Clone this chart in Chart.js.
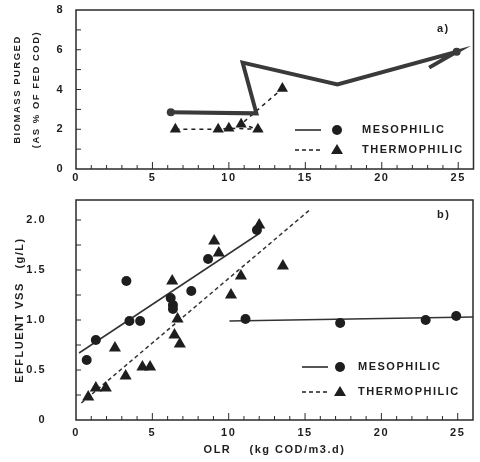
<!DOCTYPE html>
<html>
<head>
<meta charset="utf-8">
<script src="https://cdn.jsdelivr.net/npm/chart.js@4.4.0/dist/chart.umd.min.js"></script>
<style>
  html, body { margin: 0; padding: 0; background: #fff; }
  canvas { position: absolute; left: 0; }
  #purgedChart { top: 0; }
  #vssChart { top: 190px; }
</style>
</head>
<body>
<canvas id="purgedChart" width="480" height="190"></canvas>
<canvas id="vssChart" width="480" height="272"></canvas>
<script>
const seriesNames = ['MESOPHILIC', 'THERMOPHILIC'];

// a) biomass purged, points in the order the lines join them
const purgedMesoOlr = [6.2, 11.8, 10.9, 17.1, 24.9, 23.1];
const purgedMesoPct = [2.85, 2.8, 5.35, 4.25, 5.9, 5.1];
const purgedThermoOlr = [6.5, 9.3, 10.0, 11.9, 10.8, 13.5];
const purgedThermoPct = [2.0, 2.0, 2.05, 2.0, 2.25, 4.05];

// b) effluent VSS
const vssMesoOlr = [0.7, 1.3, 3.3, 3.5, 4.2, 6.2, 6.35, 6.35, 7.55, 8.65, 11.85, 11.1, 17.3, 22.9, 24.9];
const vssMesoGl = [0.60, 0.80, 1.39, 0.99, 0.99, 1.22, 1.15, 1.11, 1.29, 1.61, 1.90, 1.01, 0.97, 1.00, 1.04];
const vssThermoOlr = [0.8, 1.3, 1.95, 2.55, 3.25, 4.35, 4.85, 6.3, 6.45, 6.65, 6.8, 9.05, 9.35, 10.15, 10.8, 12.0, 13.55];
const vssThermoGl = [0.23, 0.32, 0.32, 0.72, 0.44, 0.53, 0.53, 1.39, 0.85, 1.01, 0.76, 1.79, 1.67, 1.25, 1.44, 1.95, 1.54];

// fitted lines
const mesoFitLowOlr = [0.2, 12.05];
const mesoFitLowGl = [0.67, 1.87];
const mesoFitHighOlr = [10.05, 26];
const mesoFitHighGl = [0.99, 1.03];
const thermoFitOlr = [0.35, 15.3];
const thermoFitGl = [0.17, 2.10];

(() => {
  'use strict'

  const ink = '#1e1e1e';
  Chart.defaults.font.family = '"Liberation Sans", Arial, sans-serif';
  Chart.defaults.font.weight = 'bold';
  Chart.defaults.font.size = 11;
  Chart.defaults.color = ink;

  const pts = (xs, ys) => xs.map((x, i) => ({ x: x, y: ys[i] }));

  // wide letter spacing like the typed original
  const spacing = {
    id: 'spacing',
    beforeLayout(chart) { chart.ctx.letterSpacing = '1.5px'; },
    beforeDraw(chart) { chart.ctx.letterSpacing = '1.5px'; }
  };

  // fixed y axis width, and no extra top/bottom room from tick padding
  const fixY = width => scale => {
    scale.width = width;
    scale.paddingTop = 0;
    scale.paddingBottom = 0;
  };

  // box frame with inward tick marks
  const frame = {
    id: 'frame',
    afterDraw(chart) {
      const { ctx, chartArea: a, scales } = chart;
      const mark = (x1, y1, x2, y2) => {
        ctx.beginPath();
        ctx.moveTo(x1, y1);
        ctx.lineTo(x2, y2);
        ctx.stroke();
      };
      ctx.save();
      ctx.strokeStyle = '#2a2a2a';
      ctx.lineWidth = 1;
      scales.x.ticks.forEach(t => {
        if (t.value <= scales.x.min || t.value >= scales.x.max) return;
        const px = scales.x.getPixelForValue(t.value);
        mark(px, a.bottom, px, a.bottom - (t.value % 5 === 0 ? 7 : 4));
      });
      scales.y.ticks.forEach(t => {
        if (t.value <= scales.y.min || t.value >= scales.y.max) return;
        const py = scales.y.getPixelForValue(t.value);
        mark(a.left, py, a.left + 5, py);
      });
      ctx.lineWidth = 1.5;
      ctx.strokeRect(a.left, a.top, a.right - a.left, a.bottom - a.top);
      ctx.restore();
    }
  };

  // legend inside the plot: line sample, marker, name
  const legendBox = {
    id: 'legendBox',
    afterDraw(chart, args, opts) {
      const { ctx, chartArea: a } = chart;
      ctx.save();
      ctx.fillStyle = ink;
      ctx.strokeStyle = ink;
      ctx.font = 'bold 11px "Liberation Sans", Arial, sans-serif';
      ctx.textBaseline = 'middle';
      seriesNames.forEach((name, i) => {
        const y = a.top + opts.y + i * opts.gap;
        const x = a.left + opts.x;
        ctx.lineWidth = 1.5;
        ctx.setLineDash(i === 0 ? [] : [4, 3]);
        ctx.beginPath();
        ctx.moveTo(x, y);
        ctx.lineTo(x + 26, y);
        ctx.stroke();
        ctx.setLineDash([]);
        const mx = x + opts.marker;
        ctx.beginPath();
        if (i === 0) {
          ctx.arc(mx, y, 5, 0, Math.PI * 2);
        } else {
          ctx.moveTo(mx, y - 6);
          ctx.lineTo(mx + 6, y + 4);
          ctx.lineTo(mx - 6, y + 4);
          ctx.closePath();
        }
        ctx.fill();
        ctx.fillText(name, x + opts.text, y);
      });
      ctx.textAlign = 'left';
      ctx.fillText(opts.tag, a.left + opts.tagX, a.top + opts.tagY);
      ctx.restore();
    }
  };

  const ctx1 = document.getElementById('purgedChart');
  const purgedChart = new Chart(ctx1, {
    type: 'scatter',
    data: {
      datasets: [{
        label: seriesNames[0],
        data: pts(purgedMesoOlr, purgedMesoPct),
        showLine: true,
        borderColor: '#3a3a3a',
        borderWidth: 4,
        backgroundColor: '#3a3a3a',
        pointRadius: [4, 0, 0, 0, 4, 0],
        pointBorderWidth: 0
      }, {
        label: seriesNames[1],
        data: pts(purgedThermoOlr, purgedThermoPct),
        showLine: true,
        borderColor: ink,
        borderWidth: 1.5,
        borderDash: [4, 4],
        backgroundColor: ink,
        pointStyle: 'triangle',
        pointRadius: 6.5,
        pointBorderWidth: 0
      }]
    },
    options: {
      responsive: false,
      animation: false,
      layout: { padding: { top: 10, right: 5, left: 0, bottom: 0 } },
      scales: {
        x: {
          type: 'linear',
          min: 0,
          max: 26,
          grid: { display: false, drawTicks: false },
          border: { display: false },
          ticks: {
            stepSize: 1,
            autoSkip: false,
            maxRotation: 0,
            padding: 2,
            callback: v => (v % 5 === 0 && v < 26 ? v : '')
          },
          afterFit(scale) { scale.height = 21; }
        },
        y: {
          min: 0,
          max: 8,
          grid: { display: false, drawTicks: false },
          border: { display: false },
          ticks: {
            stepSize: 1,
            autoSkip: false,
            padding: 12,
            callback: v => (v % 2 === 0 ? v : '')
          },
          title: {
            display: true,
            text: ['BIOMASS PURGED', '(AS % OF FED COD)'],
            font: { size: 9.5, weight: 'bold', lineHeight: 2 },
            padding: { top: 8, bottom: 0 }
          },
          afterFit: fixY(76)
        }
      },
      plugins: {
        legend: { display: false },
        tooltip: { enabled: false },
        legendBox: { x: 219, y: 120, gap: 20, marker: 42, text: 67, tag: 'a)', tagX: 361, tagY: 19 }
      }
    },
    plugins: [spacing, frame, legendBox]
  });

  const ctx2 = document.getElementById('vssChart');
  const vssChart = new Chart(ctx2, {
    type: 'scatter',
    data: {
      datasets: [{
        label: seriesNames[0],
        data: pts(vssMesoOlr, vssMesoGl),
        backgroundColor: ink,
        pointRadius: 5,
        pointBorderWidth: 0
      }, {
        label: seriesNames[1],
        data: pts(vssThermoOlr, vssThermoGl),
        backgroundColor: ink,
        pointStyle: 'triangle',
        pointRadius: 7,
        pointBorderWidth: 0
      }, {
        label: 'fit meso low',
        data: pts(mesoFitLowOlr, mesoFitLowGl),
        showLine: true,
        pointRadius: 0,
        borderColor: '#333',
        borderWidth: 1.5
      }, {
        label: 'fit meso high',
        data: pts(mesoFitHighOlr, mesoFitHighGl),
        showLine: true,
        pointRadius: 0,
        borderColor: '#333',
        borderWidth: 1.5
      }, {
        label: 'fit thermo',
        data: pts(thermoFitOlr, thermoFitGl),
        showLine: true,
        pointRadius: 0,
        borderColor: '#333',
        borderWidth: 1.5,
        borderDash: [4, 3]
      }]
    },
    options: {
      responsive: false,
      animation: false,
      layout: { padding: { top: 10, right: 1, left: 0, bottom: 0 } },
      scales: {
        x: {
          type: 'linear',
          min: 0,
          max: 26,
          grid: { display: false, drawTicks: false },
          border: { display: false },
          ticks: {
            stepSize: 1,
            autoSkip: false,
            maxRotation: 0,
            padding: 6,
            callback: v => (v % 5 === 0 && v < 26 ? v : '')
          },
          title: {
            display: true,
            text: 'OLR    (kg COD/m3.d)',
            padding: { top: 0, bottom: 5 }
          },
          afterFit(scale) { scale.height = 42; }
        },
        y: {
          min: 0,
          max: 2.2,
          grid: { display: false, drawTicks: false },
          border: { display: false },
          ticks: {
            stepSize: 0.25,
            autoSkip: false,
            padding: 30,
            callback: v => {
              if (Math.abs(v * 2 - Math.round(v * 2)) > 1e-6) return '';
              return v === 0 ? '0' : v.toFixed(1);
            }
          },
          title: {
            display: true,
            text: 'EFFLUENT VSS   (g/L)',
            padding: { top: 13, bottom: 0 }
          },
          afterFit: fixY(76)
        }
      },
      plugins: {
        legend: { display: false },
        tooltip: { enabled: false },
        legendBox: { x: 226, y: 167, gap: 25, marker: 38, text: 56, tag: 'b)', tagX: 361, tagY: 15 }
      }
    },
    plugins: [spacing, frame, legendBox]
  });
})();
</script>
</body>
</html>
